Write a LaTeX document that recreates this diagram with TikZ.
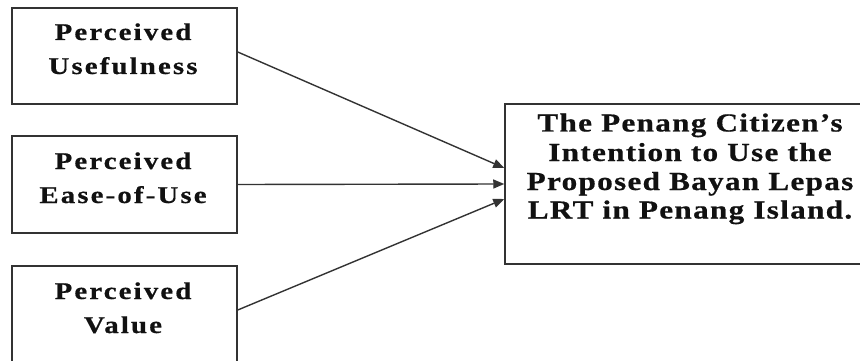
\documentclass[tikz,border=0pt]{standalone}
\usepackage{fontspec}
\usetikzlibrary{arrows.meta}
\newfontfamily\lblfont[FakeStretch=1.2,LetterSpace=9,FakeBold=0.6]{Liberation Serif Bold}
\newfontfamily\bigfont[FakeStretch=1.2,LetterSpace=5,FakeBold=0.6]{Liberation Serif Bold}
\definecolor{edge}{HTML}{333333}
\definecolor{ink}{HTML}{111111}
\tikzset{
  boxnode/.style={draw=edge,line width=1.5pt,rectangle,inner sep=0pt},
  lbl/.style={anchor=base,inner sep=0pt,text=ink,font=\lblfont\fontsize{24}{28}\selectfont},
  biglbl/.style={anchor=base,inner sep=0pt,text=ink,font=\bigfont\fontsize{26}{30}\selectfont},
  conn/.style={draw=edge,line width=1.4pt,-{Triangle[length=11pt,width=9pt]}}
}
\begin{document}
\begin{tikzpicture}[x=1pt,y=-1pt]
\clip (0,0) rectangle (860,361);
\fill[white] (0,0) rectangle (860,361);
% boxes
\node[boxnode,minimum width=225pt,minimum height=96pt] (pu) at (124.5,56) {};
\node[boxnode,minimum width=225pt,minimum height=97pt] (peou) at (124.5,184.5) {};
\node[boxnode,minimum width=225pt,minimum height=100pt] (pv) at (124.5,316) {};
\node[boxnode,minimum width=380pt,minimum height=160pt] (int) at (695,184) {};
% labels
\node[lbl] (pu1) at (123,40) {Perceived};
\node[lbl] (pu2) at (123,74) {Usefulness};
\node[lbl] (pe1) at (123,169) {Perceived};
\node[lbl] (pe2) at (123,203) {Ease-of-Use};
\node[lbl] (pv1) at (123,299) {Perceived};
\node[lbl] (pv2) at (123,333) {Value};
\node[biglbl] (in1) at (690,131.5) {The Penang Citizen’s};
\node[biglbl] (in2) at (690,161) {Intention to Use the};
\node[biglbl] (in3) at (690,190) {Proposed Bayan Lepas};
\node[biglbl] (in4) at (690,218.5) {LRT in Penang Island.};
% connectors
\draw[conn] ([yshift=4pt]pu.east) -- ([yshift=16pt]int.west);
\draw[conn] (peou.east) -- (int.west);
\draw[conn] ([yshift=6pt]pv.east) -- ([yshift=-15pt]int.west);
\end{tikzpicture}
\end{document}
